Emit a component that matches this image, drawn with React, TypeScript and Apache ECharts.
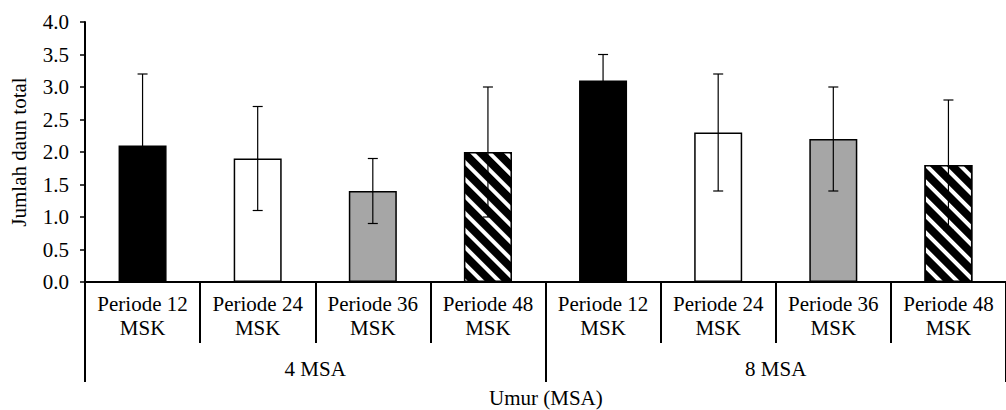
import React, { useEffect, useRef } from "react";
import * as echarts from "echarts";

const categories = [
  "Periode 12\nMSK", "Periode 24\nMSK", "Periode 36\nMSK", "Periode 48\nMSK",
  "Periode 12\nMSK", "Periode 24\nMSK", "Periode 36\nMSK", "Periode 48\nMSK",
];
const groups = ["4 MSA", "8 MSA"];
const means = [2.1, 1.9, 1.4, 2.0, 3.1, 2.3, 2.2, 1.8];
const errors = [1.1, 0.8, 0.5, 1.0, 0.4, 0.9, 0.8, 1.0];
const yTicks = [0, 0.5, 1, 1.5, 2, 2.5, 3, 3.5, 4];

const FONT = "Liberation Serif";
const FS = 21;

const fills = [
  { color: "#000000" },
  { color: "#ffffff" },
  { color: "#a6a6a6" },
  {
    color: "#000000",
    decal: {
      symbol: "rect",
      symbolSize: 1,
      dashArrayX: [1, 0],
      dashArrayY: [4, 8],
      rotation: Math.PI / 4,
      color: "#ffffff",
    },
  },
];

export default function App() {
  const ref = useRef<HTMLDivElement>(null);
  useEffect(() => {
    if (!ref.current) return;
    const chart = echarts.init(ref.current, undefined, { renderer: "svg" });
    const grid = { left: 83, top: 22, width: 932, height: 260 };
    chart.setOption({
      animation: false,
      textStyle: { fontFamily: FONT, color: "#000" },
      grid,
      xAxis: [
        {
          type: "category",
          data: categories,
          position: "bottom",
          axisLine: { show: true, lineStyle: { color: "#000", width: 2 } },
          axisTick: { show: true, interval: 0, length: 61, lineStyle: { color: "#000", width: 2 } },
          axisLabel: {
            interval: 0,
            margin: 10,
            fontFamily: FONT,
            fontSize: FS,
            color: "#000",
            lineHeight: 24,
          },
        },
        {
          type: "category",
          data: groups,
          position: "bottom",
          offset: 0,
          axisLine: { show: false },
          axisTick: { show: true, interval: 0, length: 100, lineStyle: { color: "#000", width: 2 } },
          axisLabel: {
            interval: 0,
            margin: 75,
            fontFamily: FONT,
            fontSize: FS,
            color: "#000",
            lineHeight: 24,
          },
        },
      ],
      yAxis: {
        type: "value",
        min: yTicks[0],
        max: yTicks[yTicks.length - 1],
        interval: 0.5,
        name: "Jumlah daun total",
        nameLocation: "middle",
        nameGap: 56,
        nameRotate: 90,
        nameTextStyle: { fontFamily: FONT, fontSize: FS, color: "#000" },
        axisLine: { show: true, lineStyle: { color: "#000", width: 2 } },
        axisTick: { show: true, length: 5, lineStyle: { color: "#000", width: 1.5 } },
        splitLine: { show: false },
        axisLabel: {
          margin: 16,
          fontFamily: FONT,
          fontSize: FS,
          color: "#000",
          formatter: (v: number) => v.toFixed(1),
        },
      },
      graphic: [
        {
          type: "text",
          left: 549 - 60,
          top: 387,
          style: { text: "Umur (MSA)", font: `21px '${FONT}'`, fill: "#000", width: 120, align: "center" },
        },
      ],
      series: [
        {
          type: "bar",
          xAxisIndex: 0,
          barWidth: 48,
          data: means.map((m, i) => ({
            value: m,
            itemStyle: { ...fills[i % 4], borderColor: "#000", borderWidth: 1.5 },
          })),
        },
        {
          type: "custom",
          xAxisIndex: 0,
          data: means.map((m, i) => [i, m, errors[i]]),
          renderItem: (params: any, api: any) => {
            const x = api.value(0);
            const y = api.value(1);
            const e = api.value(2);
            const top = api.coord([x, y + e]);
            const bot = api.coord([x, y - e]);
            const hw = 5;
            const st = { stroke: "#000", lineWidth: 1.2 };
            return {
              type: "group",
              children: [
                { type: "line", shape: { x1: top[0], y1: top[1], x2: bot[0], y2: bot[1] }, style: st },
                { type: "line", shape: { x1: top[0] - hw, y1: top[1], x2: top[0] + hw, y2: top[1] }, style: st },
                { type: "line", shape: { x1: bot[0] - hw, y1: bot[1], x2: bot[0] + hw, y2: bot[1] }, style: st },
              ],
            };
          },
          z: 10,
        },
      ],
    });
    return () => chart.dispose();
  }, []);
  return (
    <div
      ref={ref}
      style={{ position: "fixed", left: 0, top: 0, width: 1006, height: 410, background: "#fff" }}
    />
  );
}
